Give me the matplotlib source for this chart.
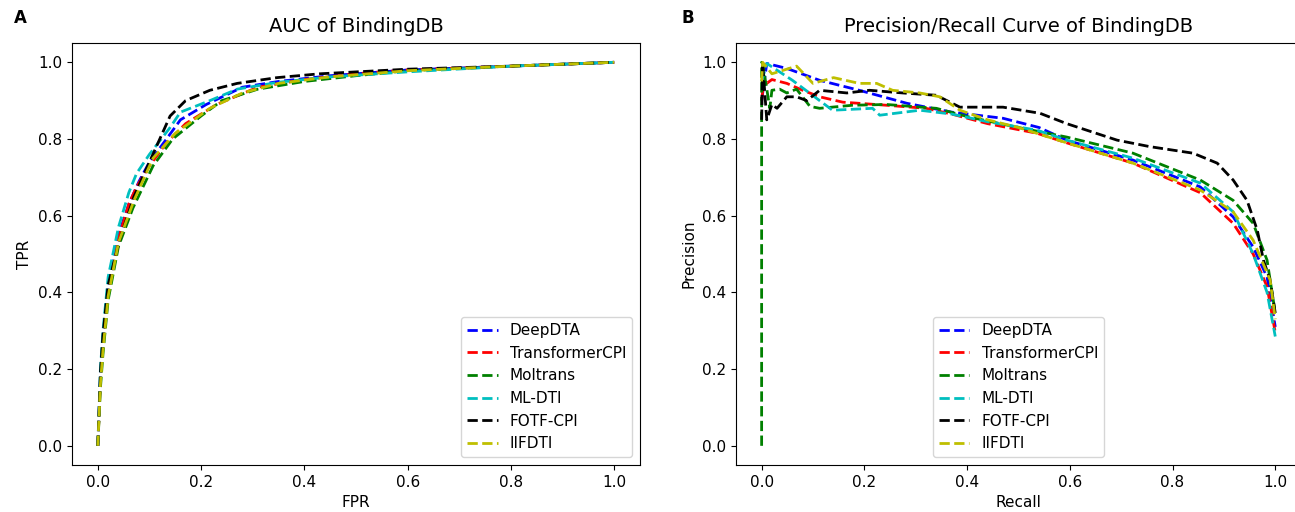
import matplotlib
matplotlib.use('Agg')
import matplotlib.pyplot as plt

models = ['DeepDTA', 'TransformerCPI', 'Moltrans', 'ML-DTI', 'FOTF-CPI', 'IIFDTI']
colors = ['b', 'r', 'g', 'c', 'k', 'y']

# ROC curves (FPR, TPR)
fpr_deepdta = [0.0, 0.005, 0.01, 0.02, 0.04, 0.06, 0.08, 0.10, 0.133, 0.16, 0.21, 0.28, 0.35, 0.45, 0.6, 0.8, 1.0]
tpr_deepdta = [0.0, 0.18, 0.28, 0.42, 0.55, 0.63, 0.69, 0.74, 0.80, 0.85, 0.89, 0.935, 0.95, 0.965, 0.98, 0.99, 1.0]
fpr_transformercpi = [0.0, 0.005, 0.01, 0.02, 0.04, 0.06, 0.075, 0.10, 0.133, 0.17, 0.23, 0.31, 0.4, 0.5, 0.6, 0.8, 1.0]
tpr_transformercpi = [0.0, 0.17, 0.26, 0.40, 0.54, 0.63, 0.675, 0.73, 0.79, 0.84, 0.89, 0.935, 0.955, 0.97, 0.98, 0.99, 1.0]
fpr_moltrans = [0.0, 0.005, 0.01, 0.02, 0.04, 0.068, 0.107, 0.145, 0.20, 0.24, 0.31, 0.4, 0.5, 0.6, 0.8, 1.0]
tpr_moltrans = [0.0, 0.15, 0.24, 0.38, 0.52, 0.62, 0.73, 0.80, 0.86, 0.90, 0.93, 0.95, 0.965, 0.978, 0.99, 1.0]
fpr_mldti = [0.0, 0.005, 0.01, 0.02, 0.04, 0.06, 0.075, 0.10, 0.14, 0.16, 0.217, 0.27, 0.35, 0.45, 0.6, 0.8, 1.0]
tpr_mldti = [0.0, 0.20, 0.30, 0.44, 0.57, 0.66, 0.71, 0.76, 0.83, 0.87, 0.90, 0.93, 0.948, 0.962, 0.975, 0.99, 1.0]
fpr_fotfcpi = [0.0, 0.005, 0.01, 0.02, 0.043, 0.07, 0.10, 0.12, 0.14, 0.17, 0.217, 0.27, 0.347, 0.43, 0.6, 0.8, 1.0]
tpr_fotfcpi = [0.0, 0.19, 0.29, 0.42, 0.54, 0.65, 0.74, 0.80, 0.86, 0.90, 0.927, 0.945, 0.96, 0.97, 0.982, 0.99, 1.0]
fpr_iifdti = [0.0, 0.005, 0.01, 0.02, 0.04, 0.07, 0.107, 0.15, 0.217, 0.28, 0.35, 0.45, 0.6, 0.8, 1.0]
tpr_iifdti = [0.0, 0.16, 0.25, 0.39, 0.53, 0.64, 0.75, 0.815, 0.88, 0.92, 0.945, 0.962, 0.978, 0.99, 1.0]

# precision/recall curves
rec_deepdta = [0.0, 0.01, 0.049, 0.113, 0.19, 0.283, 0.37, 0.47, 0.54, 0.594, 0.723, 0.854, 0.918, 0.957, 0.984, 1.0]
prec_deepdta = [0.9, 0.997, 0.984, 0.953, 0.927, 0.893, 0.87, 0.854, 0.83, 0.797, 0.745, 0.675, 0.597, 0.518, 0.44, 0.31]
rec_transformercpi = [0.0, 0.005, 0.01, 0.02, 0.049, 0.08, 0.113, 0.158, 0.243, 0.32, 0.37, 0.44, 0.536, 0.594, 0.723, 0.854, 0.918, 0.957, 0.984, 1.0]
prec_transformercpi = [0.9, 0.96, 0.945, 0.955, 0.945, 0.927, 0.91, 0.896, 0.888, 0.88, 0.865, 0.84, 0.815, 0.79, 0.737, 0.66, 0.58, 0.50, 0.415, 0.295]
rec_moltrans = [0.0, 0.0, 0.002, 0.016, 0.02, 0.035, 0.049, 0.068, 0.094, 0.113, 0.177, 0.243, 0.34, 0.405, 0.50, 0.594, 0.723, 0.854, 0.918, 0.957, 0.984, 1.0]
prec_moltrans = [0.0, 1.0, 0.997, 0.88, 0.927, 0.93, 0.92, 0.93, 0.885, 0.88, 0.888, 0.89, 0.88, 0.857, 0.83, 0.805, 0.763, 0.693, 0.64, 0.58, 0.484, 0.346]
rec_mldti = [0.0, 0.01, 0.06, 0.113, 0.138, 0.216, 0.23, 0.308, 0.37, 0.44, 0.536, 0.594, 0.723, 0.854, 0.918, 0.957, 0.984, 1.0]
prec_mldti = [0.95, 0.997, 0.953, 0.90, 0.875, 0.88, 0.862, 0.875, 0.865, 0.845, 0.823, 0.797, 0.75, 0.685, 0.61, 0.50, 0.40, 0.285]
rec_fotfcpi = [0.0, 0.002, 0.01, 0.02, 0.03, 0.049, 0.068, 0.088, 0.113, 0.166, 0.21, 0.275, 0.34, 0.386, 0.47, 0.542, 0.594, 0.692, 0.756, 0.84, 0.887, 0.918, 0.945, 0.965, 0.977, 0.99, 1.0]
prec_fotfcpi = [0.85, 0.997, 0.85, 0.89, 0.88, 0.91, 0.91, 0.90, 0.927, 0.92, 0.927, 0.92, 0.914, 0.883, 0.883, 0.867, 0.84, 0.797, 0.78, 0.763, 0.737, 0.693, 0.64, 0.562, 0.484, 0.432, 0.346]
rec_iifdti = [0.0, 0.002, 0.02, 0.068, 0.10, 0.14, 0.19, 0.224, 0.255, 0.308, 0.347, 0.386, 0.44, 0.50, 0.594, 0.723, 0.854, 0.918, 0.957, 0.99, 1.0]
prec_iifdti = [0.95, 1.0, 0.97, 0.99, 0.945, 0.96, 0.945, 0.945, 0.927, 0.92, 0.91, 0.875, 0.85, 0.83, 0.79, 0.737, 0.667, 0.61, 0.536, 0.432, 0.33]

roc_x = [fpr_deepdta, fpr_transformercpi, fpr_moltrans, fpr_mldti, fpr_fotfcpi, fpr_iifdti]
roc_y = [tpr_deepdta, tpr_transformercpi, tpr_moltrans, tpr_mldti, tpr_fotfcpi, tpr_iifdti]
pr_x = [rec_deepdta, rec_transformercpi, rec_moltrans, rec_mldti, rec_fotfcpi, rec_iifdti]
pr_y = [prec_deepdta, prec_transformercpi, prec_moltrans, prec_mldti, prec_fotfcpi, prec_iifdti]

fs = 11
fig = plt.figure(figsize=(12.95, 5.12), dpi=100)
ax1 = fig.add_axes([0.0556, 0.0918, 0.4386, 0.824])
# right panel runs just past the right edge, as in the cropped original
ax2 = fig.add_axes([0.5683, 0.0918, 0.4363, 0.824])

for name, c, x, y in zip(models, colors, roc_x, roc_y):
    ax1.plot(x, y, '--', color=c, lw=2, label=name)
for name, c, x, y in zip(models, colors, pr_x, pr_y):
    ax2.plot(x, y, '--', color=c, lw=2, label=name)

ax1.set_title('AUC of BindingDB', fontsize=14, pad=8)
ax1.set_xlabel('FPR', fontsize=fs)
ax1.set_ylabel('TPR', fontsize=fs)
ax1.legend(loc='lower right', fontsize=fs)

ax2.set_title('Precision/Recall Curve of BindingDB', fontsize=14, pad=8)
ax2.set_xlabel('Recall', fontsize=fs)
ax2.set_ylabel('Precision', fontsize=fs)
ax2.legend(loc='lower center', fontsize=fs)

for ax in (ax1, ax2):
    ax.tick_params(labelsize=fs)
    ax.set_xticks([0.0, 0.2, 0.4, 0.6, 0.8, 1.0])
    ax.set_yticks([0.0, 0.2, 0.4, 0.6, 0.8, 1.0])
    ax.set_xlim(-0.05, 1.05)

fig.text(0.011, 0.955, 'A', fontsize=12, fontweight='bold')
fig.text(0.526, 0.955, 'B', fontsize=12, fontweight='bold')

plt.savefig('out.png', dpi=100)
